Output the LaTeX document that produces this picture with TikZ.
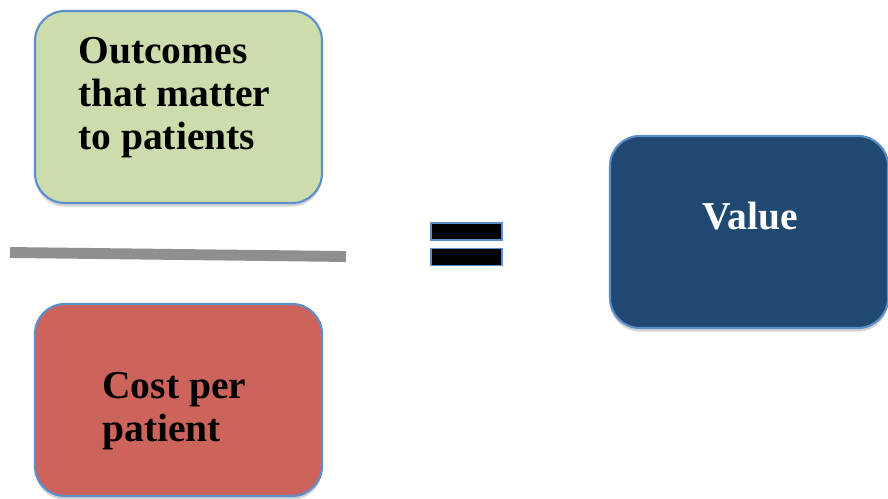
\documentclass[tikz,border=0pt]{standalone}
\usepackage{fontspec}
\setmainfont{Liberation Serif}
\usetikzlibrary{shadows}
\definecolor{outc}{HTML}{CDDCAC}
\definecolor{cost}{HTML}{CC645C}
\definecolor{valu}{HTML}{1F4970}
\definecolor{rim}{HTML}{5B8FCB}
\definecolor{bar}{HTML}{8F8F8F}
\tikzset{
  card/.style={draw=rim, line width=1.2pt, rounded corners=17pt,
    minimum width=287*0.02cm, minimum height=192*0.02cm, inner sep=0pt,
    drop shadow={shadow xshift=0pt, shadow yshift=-2pt, opacity=.35}},
  word/.style={font=\fontsize{22.5}{24.5}\selectfont\bfseries, align=left, inner sep=0pt},
  bar/.style={draw=rim, line width=0.8pt, fill=black,
    minimum width=71*0.02cm, minimum height=17*0.02cm, inner sep=0pt}
}
\begin{document}
\begin{tikzpicture}[x=0.02cm, y=-0.02cm]
  \useasboundingbox (0,0) rectangle (888,499);
  \node[card, fill=outc] (o) at (178.5,107) {};
  \node[card, fill=cost] (c) at (178.5,400) {};
  \node[card, fill=valu, minimum width=278*0.02cm] (v) at (749,232) {};
  \node[word, anchor=north west] (ot) at (78,37) {Outcomes\\that matter\\to patients};
  \node[word, anchor=north west] (ct) at (102,372) {Cost per\\patient};
  \node[word, text=white] (vt) at (750,216) {Value};
  \coordinate (l) at (10,252.5);
  \coordinate (r) at (346,256.5);
  \draw[bar, line width=6.2pt, draw=bar, fill=none,
    drop shadow={shadow xshift=0pt, shadow yshift=-2pt, opacity=.3}] (l) -- (r);
  \node[bar] (e1) at (466.5,231.5) {};
  \node[bar] (e2) at (466.5,257) {};
\end{tikzpicture}
\end{document}
